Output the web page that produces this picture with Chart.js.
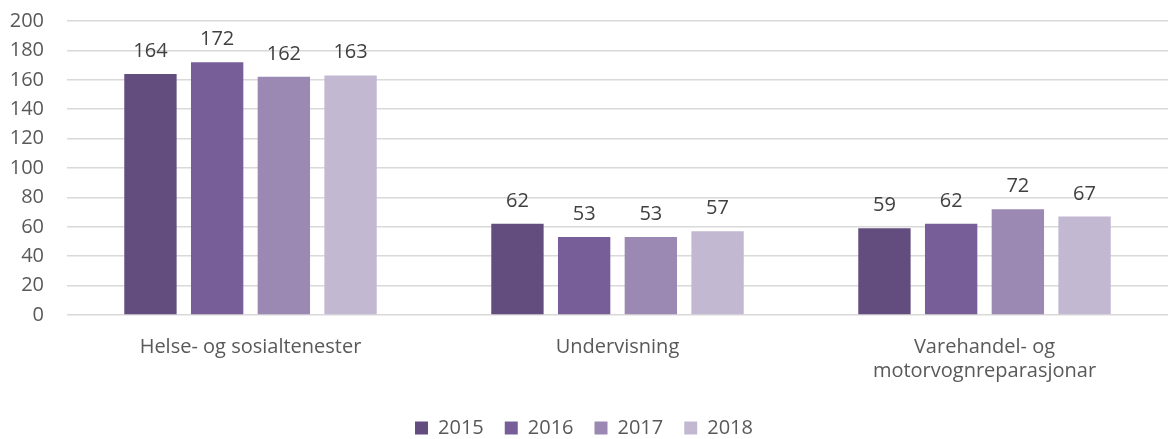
<!DOCTYPE html>
<html>
<head>
<meta charset="utf-8">
<script src="https://cdn.jsdelivr.net/npm/chart.js@4"></script>
<style>
html,body{margin:0;padding:0;background:#fff;}
#wrap{width:1168px;height:439px;position:relative;}
</style>
</head>
<body>
<div id="wrap"><canvas id="c"></canvas></div>
<script>
const categories = [["Helse- og sosialtenester"], ["Undervisning"], ["Varehandel- og", "motorvognreparasjonar"]];
const years = ["2015", "2016", "2017", "2018"];
const v2015 = [164, 62, 59];
const v2016 = [172, 53, 62];
const v2017 = [162, 53, 72];
const v2018 = [163, 57, 67];
const colors = ["#624d7e", "#775e98", "#9c89b3", "#c3b8d1"];
const yTicks = [0, 20, 40, 60, 80, 100, 120, 140, 160, 180, 200];

const seriesValues = [v2015, v2016, v2017, v2018];
const FONT = "'Open Sans', sans-serif";

const labelPlugin = {
  id: 'barLabels',
  afterDatasetsDraw(chart) {
    const ctx = chart.ctx;
    ctx.save();
    ctx.font = "20px " + FONT;
    ctx.fillStyle = "#404040";
    ctx.textAlign = "center";
    ctx.textBaseline = "alphabetic";
    chart.data.datasets.forEach((ds, i) => {
      const meta = chart.getDatasetMeta(i);
      meta.data.forEach((bar, j) => {
        ctx.fillText(String(ds.data[j]), bar.x, bar.y - 17);
      });
    });
    ctx.restore();
  }
};

new Chart(document.getElementById('c'), {
  type: 'bar',
  data: {
    labels: categories,
    datasets: years.map((y, i) => ({
      label: y,
      data: seriesValues[i],
      backgroundColor: colors[i],
      borderWidth: 0,
      categoryPercentage: 0.727,
      barPercentage: 0.785
    }))
  },
  options: {
    responsive: true,
    maintainAspectRatio: false,
    animation: false,
    layout: { padding: { top: 21, right: 0, left: 0, bottom: -9 } },
    plugins: {
      legend: {
        position: 'bottom',
        labels: {
          font: { family: FONT, size: 20 },
          color: "#595959",
          boxWidth: 13,
          boxHeight: 13,
          padding: 21
        }
      },
      tooltip: { enabled: false }
    },
    scales: {
      x: {
        grid: { display: false },
        border: { display: false },
        afterFit(axis) { axis.height = 82; axis.paddingLeft = 0; axis.paddingRight = 0; },
        ticks: {
          font: { family: FONT, size: 20, lineHeight: 1.2 },
          color: "#595959",
          padding: 12,
          maxRotation: 0,
          autoSkip: false
        }
      },
      y: {
        min: 0,
        max: 200,
        afterFit(axis) { axis.width = 67; axis.paddingTop = 0; axis.paddingBottom = 0; },
        afterBuildTicks(axis) { axis.ticks = yTicks.map(v => ({ value: v })); },
        grid: { color: "#d9d9d9", lineWidth: 1.5, drawTicks: false },
        border: { display: false },
        ticks: {
          font: { family: FONT, size: 20 },
          color: "#595959",
          padding: 23
        }
      }
    }
  },
  plugins: [labelPlugin]
});
</script>
</body>
</html>
